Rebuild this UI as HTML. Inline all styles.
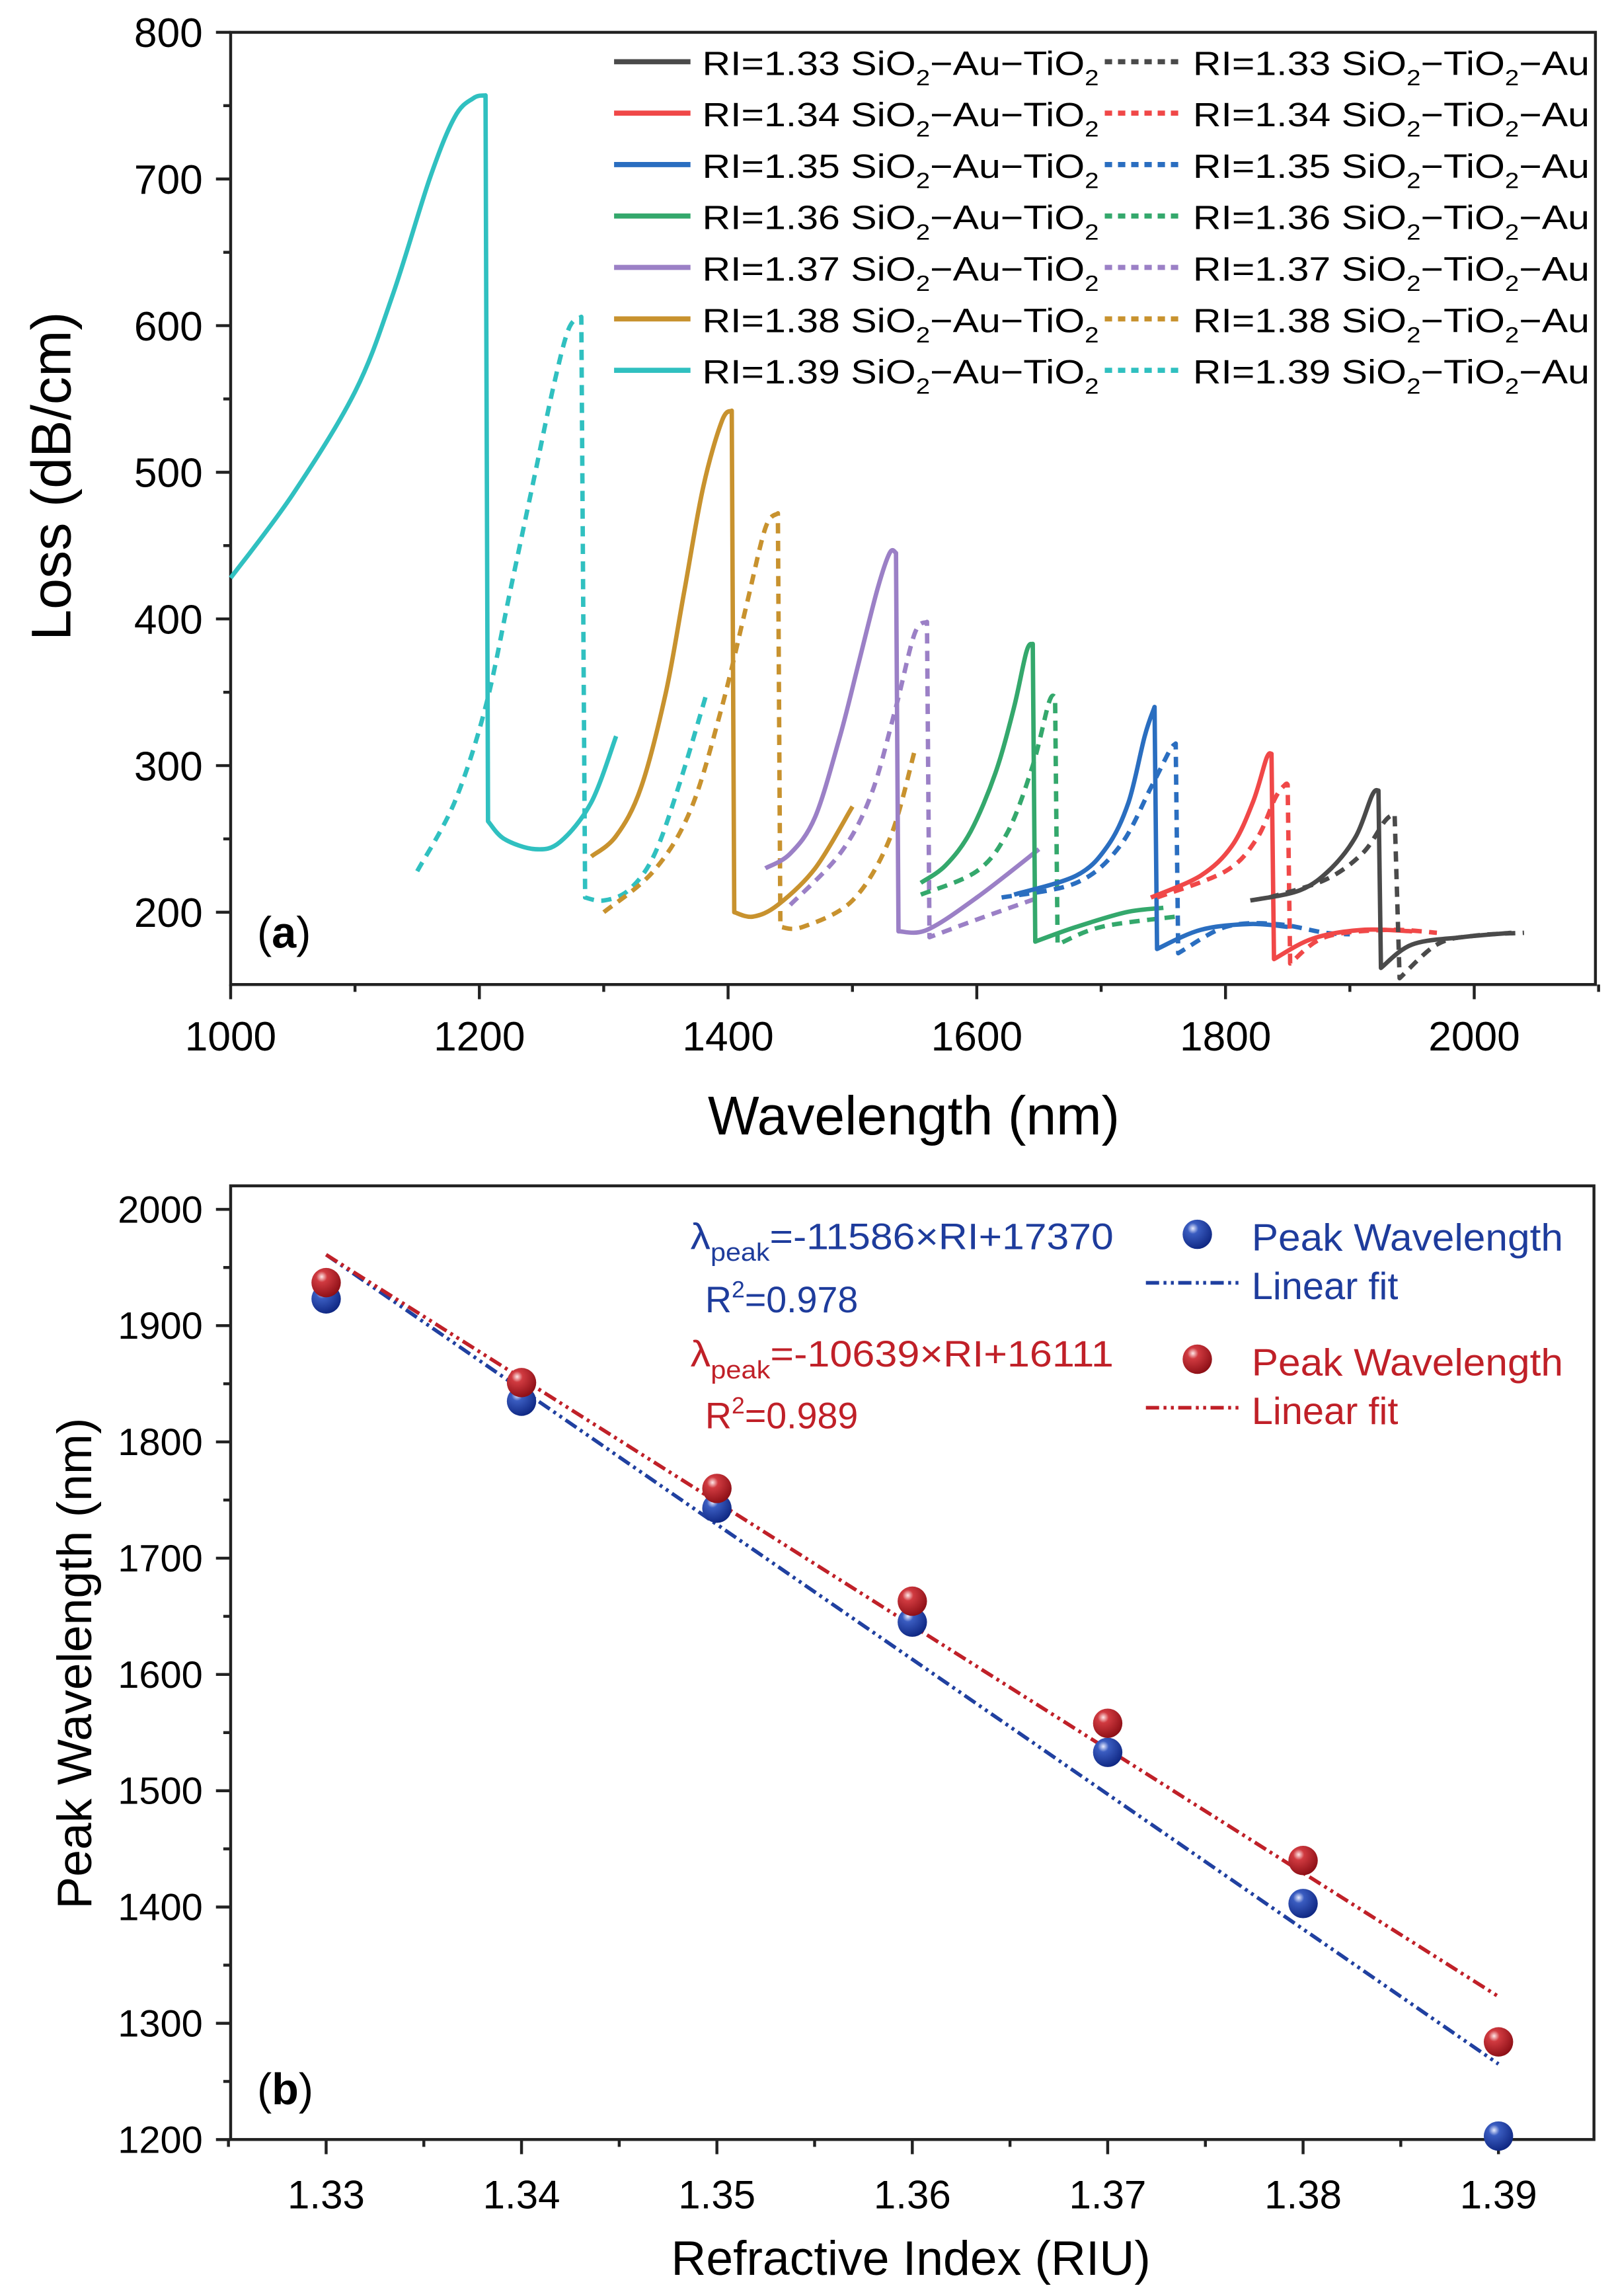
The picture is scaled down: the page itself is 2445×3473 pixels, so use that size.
<!DOCTYPE html>
<html><head><meta charset="utf-8"><style>
html,body{margin:0;padding:0;background:#fff}
svg{display:block}
text{font-family:"Liberation Sans",sans-serif}
</style></head><body>
<svg id="s" width="2445" height="3473" viewBox="0 0 1100 1562.5" preserveAspectRatio="none" xmlns="http://www.w3.org/2000/svg">
<defs>
<radialGradient id="gb" cx="0.35" cy="0.3" r="0.75"><stop offset="0" stop-color="#e8ecff"/><stop offset="0.25" stop-color="#3a5cc0"/><stop offset="1" stop-color="#0d2580"/></radialGradient>
<radialGradient id="gr" cx="0.35" cy="0.3" r="0.75"><stop offset="0" stop-color="#ffe8e8"/><stop offset="0.25" stop-color="#d03a40"/><stop offset="1" stop-color="#8a0d14"/></radialGradient>
</defs>
<g id="g"></g>
</svg>
<script>
const g=document.getElementById('g');let h='';
const X=w=>157+(w-1000)*0.8465, Y=v=>22+(800-v)*0.998;
h+='<rect x="157" y="22" width="929" height="648" fill="none" stroke="#222" stroke-width="2"/>';
for(let v=200;v<=800;v+=50){const y=Y(v);const maj=v%100==0;h+=`<line x1="157" x2="${maj?147:152}" y1="${y}" y2="${y}" stroke="#222" stroke-width="2"/>`;if(maj)h+=`<text x="138" y="${y+10}" font-size="28" text-anchor="end">${v}</text>`;}
for(let w=1000;w<=2100;w+=100){const x=X(w);const maj=w%200==0;h+=`<line x1="${x}" x2="${x}" y1="670" y2="${maj?680:675}" stroke="#222" stroke-width="2"/>`;if(maj)h+=`<text x="${x}" y="715" font-size="28" text-anchor="middle">${w}</text>`;}
h+='<text x="622" y="772" font-size="37" text-anchor="middle">Wavelength (nm)</text>';
h+='<text transform="translate(48,324) rotate(-90)" font-size="38" text-anchor="middle">Loss (dB/cm)</text>';
h+='<text x="175" y="645" font-size="30">(<tspan font-weight="bold">a</tspan>)</text>';
const C=['#4a4a4a','#f04848','#2a6ec0','#34a86c','#9b80c6','#c8922e','#30c0c0'];
const S=[
[[1000,428],[1050,485],[1100,555],[1130,620],[1160,700],[1180,742],[1195,755],[1205,757],[1207,262],[1220,250],[1245,243],[1265,248],[1290,275],[1310,320]],
[[1290,238],[1310,252],[1330,285],[1350,350],[1365,420],[1380,490],[1395,535],[1403,542],[1405,200],[1420,197],[1440,205],[1470,230],[1500,272]],
[[1430,230],[1450,240],[1470,265],[1490,320],[1505,370],[1520,420],[1530,445],[1535,445],[1537,187],[1560,188],[1600,210],[1650,243]],
[[1555,220],[1575,232],[1595,255],[1615,295],[1630,340],[1640,378],[1645,383],[1647,180],[1680,190],[1720,200],[1750,203]],
[[1630,212],[1680,225],[1705,245],[1722,275],[1735,320],[1743,340],[1745,175],[1780,188],[1820,192],[1850,190]],
[[1740,210],[1780,225],[1805,245],[1822,275],[1833,305],[1837,308],[1839,168],[1870,182],[1910,188],[1950,187]],
[[1820,208],[1860,215],[1885,230],[1905,252],[1918,280],[1923,283],[1925,162],[1950,178],[1990,183],[2030,186]]];
const D=[
[[1150,228],[1180,275],[1205,340],[1225,420],[1245,500],[1260,560],[1272,598],[1282,606],[1285,210],[1300,208],[1320,215],[1340,238],[1360,285],[1383,350]],
[[1300,200],[1340,228],[1370,270],[1395,340],[1415,410],[1430,462],[1440,472],[1442,190],[1460,190],[1500,208],[1530,250],[1550,310]],
[[1450,205],[1490,240],[1515,280],[1535,340],[1550,390],[1560,398],[1562,183],[1600,195],[1650,210]],
[[1555,212],[1600,228],[1625,255],[1645,300],[1658,343],[1663,347],[1665,178],[1700,190],[1760,197]],
[[1620,210],[1680,220],[1715,245],[1740,285],[1755,310],[1760,315],[1762,172],[1800,190],[1840,192],[1880,186],[1900,185]],
[[1745,210],[1800,228],[1825,250],[1840,278],[1848,287],[1850,287],[1852,165],[1880,183],[1930,188],[1970,186]],
[[1835,210],[1880,222],[1910,240],[1928,262],[1936,267],[1940,155],[1970,178],[2000,184],[2040,186]]];
function smooth(p){let d=`M${p[0][0].toFixed(1)},${p[0][1].toFixed(1)}`;
for(let i=0;i<p.length-1;i++){const p0=p[i-1]||p[i],p1=p[i],p2=p[i+1],p3=p[i+2]||p2;
const c1=[p1[0]+(p2[0]-p0[0])/6,p1[1]+(p2[1]-p0[1])/6],c2=[p2[0]-(p3[0]-p1[0])/6,p2[1]-(p3[1]-p1[1])/6];
d+=` C${c1[0].toFixed(1)},${c1[1].toFixed(1)} ${c2[0].toFixed(1)},${c2[1].toFixed(1)} ${p2[0].toFixed(1)},${p2[1].toFixed(1)}`;}return d;}
function path(pts,c,dash){const q=pts.map(p=>[X(p[0]),Y(p[1])]);let k=0;
for(let i=1;i<pts.length;i++){if(pts[i-1][1]-pts[i][1]>60&&pts[i][0]-pts[i-1][0]<6){k=i;break;}}
const a=q.slice(0,k),b=q.slice(k);
const d=smooth(a)+` L${b[0][0].toFixed(1)},${b[0][1].toFixed(1)}`+smooth(b).replace(/^M[^C]*/,'');
return `<path d="${d}" fill="none" stroke="${c}" stroke-width="3" stroke-linejoin="round" ${dash?'stroke-dasharray="7,5"':''}/>`;}
for(let i=0;i<7;i++){h+=path(D[i],C[6-i],1);h+=path(S[i],C[6-i],0);}
for(let i=0;i<7;i++){const y=42+i*35;const ri=(1.33+i*0.01).toFixed(2);
h+=`<line x1="418" x2="470" y1="${y}" y2="${y}" stroke="${C[i]}" stroke-width="3.5"/>`;
h+=`<text x="478" y="${y+9}" font-size="23" textLength="270" lengthAdjust="spacingAndGlyphs">RI=${ri} SiO<tspan dy="7" font-size="15">2</tspan><tspan dy="-7">−Au−TiO</tspan><tspan dy="7" font-size="15">2</tspan></text>`;
h+=`<line x1="752" x2="806" y1="${y}" y2="${y}" stroke="${C[i]}" stroke-width="3.5" stroke-dasharray="5,4"/>`;
h+=`<text x="812" y="${y+9}" font-size="23" textLength="270" lengthAdjust="spacingAndGlyphs">RI=${ri} SiO<tspan dy="7" font-size="15">2</tspan><tspan dy="-7">−TiO</tspan><tspan dy="7" font-size="15">2</tspan><tspan dy="-7">−Au</tspan></text>`;}
const XB=r=>222+(r-1.33)*13300, YB=v=>823+(2000-v)*0.7913;
h+='<rect x="157" y="807" width="928" height="649" fill="none" stroke="#222" stroke-width="2"/>';
for(let v=1200;v<=2000;v+=50){const y=YB(v);const maj=v%100==0;h+=`<line x1="157" x2="${maj?147:152}" y1="${y}" y2="${y}" stroke="#222" stroke-width="2"/>`;if(maj)h+=`<text x="138" y="${y+9}" font-size="26" text-anchor="end">${v}</text>`;}
for(let k=0;k<=13;k++){const r=1.325+k*0.005;const x=XB(r);const maj=k%2==1;h+=`<line x1="${x}" x2="${x}" y1="1456" y2="${maj?1466:1461}" stroke="#222" stroke-width="2"/>`;if(maj)h+=`<text x="${x}" y="1503" font-size="27" text-anchor="middle">${r.toFixed(2)}</text>`;}
h+='<text x="620" y="1548" font-size="33" text-anchor="middle">Refractive Index (RIU)</text>';
h+='<text transform="translate(62,1132) rotate(-90)" font-size="33" text-anchor="middle">Peak Wavelength (nm)</text>';
h+='<text x="175" y="1432" font-size="30">(<tspan font-weight="bold">b</tspan>)</text>';
h+=`<line x1="${XB(1.33)}" y1="${YB(1961)}" x2="${XB(1.39)}" y2="${YB(1265)}" stroke="#2040a0" stroke-width="2.5" stroke-dasharray="9,3,2,3,2,3"/>`;
h+=`<line x1="${XB(1.33)}" y1="${YB(1961)}" x2="${XB(1.39)}" y2="${YB(1323)}" stroke="#c02028" stroke-width="2.5" stroke-dasharray="9,3,2,3,2,3"/>`;
const B=[1923,1835,1743,1645,1533,1403,1203],R=[1937,1851,1760,1663,1558,1440,1284];
for(let i=0;i<7;i++){const x=XB(1.33+i*0.01);h+=`<circle cx="${x}" cy="${YB(B[i])}" r="10" fill="url(#gb)"/>`;}
for(let i=0;i<7;i++){const x=XB(1.33+i*0.01);h+=`<circle cx="${x}" cy="${YB(R[i])}" r="10" fill="url(#gr)"/>`;}
h+='<text x="470" y="850" font-size="25" fill="#1e3c9c" textLength="288" lengthAdjust="spacingAndGlyphs">λ<tspan dy="8" font-size="17">peak</tspan><tspan dy="-8">=-11586×RI+17370</tspan></text>';
h+='<text x="480" y="893" font-size="25" fill="#1e3c9c">R<tspan dy="-10" font-size="16">2</tspan><tspan dy="10">=0.978</tspan></text>';
h+='<text x="470" y="930" font-size="25" fill="#c02028" textLength="288" lengthAdjust="spacingAndGlyphs">λ<tspan dy="8" font-size="17">peak</tspan><tspan dy="-8">=-10639×RI+16111</tspan></text>';
h+='<text x="480" y="972" font-size="25" fill="#c02028">R<tspan dy="-10" font-size="16">2</tspan><tspan dy="10">=0.989</tspan></text>';
h+='<circle cx="815" cy="840" r="10" fill="url(#gb)"/><text x="852" y="851" font-size="26" fill="#1e3c9c" textLength="212" lengthAdjust="spacingAndGlyphs">Peak Wavelength</text>';
h+='<line x1="780" x2="845" y1="873" y2="873" stroke="#2040a0" stroke-width="2.5" stroke-dasharray="9,3,2,3,2,3"/><text x="852" y="884" font-size="26" fill="#1e3c9c">Linear fit</text>';
h+='<circle cx="815" cy="925" r="10" fill="url(#gr)"/><text x="852" y="936" font-size="26" fill="#c02028" textLength="212" lengthAdjust="spacingAndGlyphs">Peak Wavelength</text>';
h+='<line x1="780" x2="845" y1="958" y2="958" stroke="#c02028" stroke-width="2.5" stroke-dasharray="9,3,2,3,2,3"/><text x="852" y="969" font-size="26" fill="#c02028">Linear fit</text>';
g.innerHTML=h;
</script>
</body></html>
